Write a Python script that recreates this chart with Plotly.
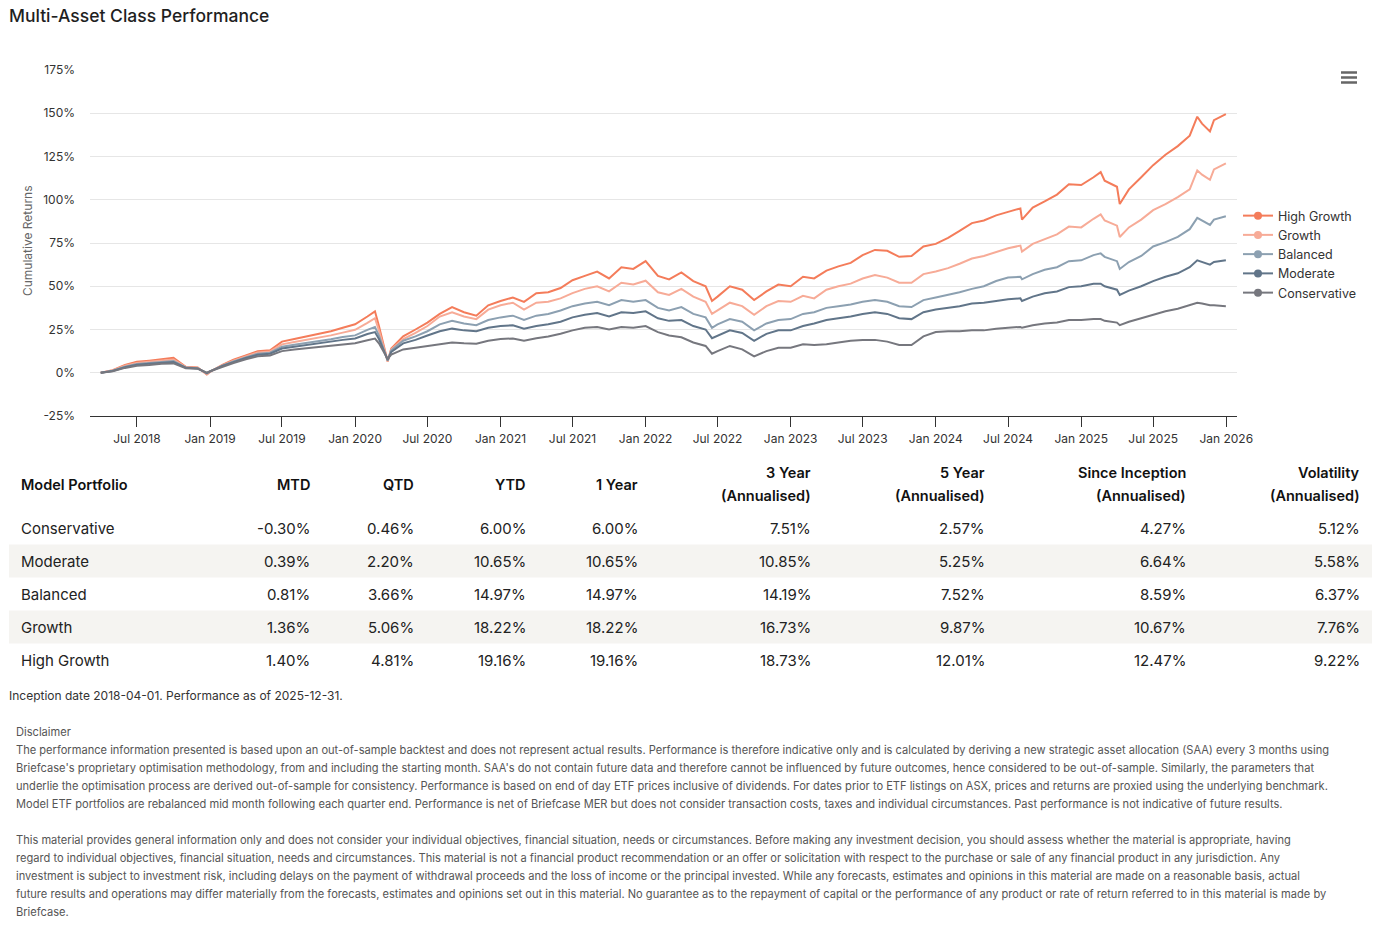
import plotly.graph_objects as go

# ---------------- data ----------------
dates = [
    "2018-04-01", "2018-05-01", "2018-06-01", "2018-07-01", "2018-08-01", "2018-09-01",
    "2018-10-01", "2018-11-01", "2018-12-01", "2018-12-24", "2019-01-01", "2019-02-01",
    "2019-03-01", "2019-04-01", "2019-05-01", "2019-06-01", "2019-07-01", "2019-08-01",
    "2019-09-01", "2019-10-01", "2019-11-01", "2019-12-01", "2020-01-01", "2020-02-01",
    "2020-02-20", "2020-03-01", "2020-03-23", "2020-04-01", "2020-05-01", "2020-06-01",
    "2020-07-01", "2020-08-01", "2020-09-01", "2020-10-01", "2020-11-01", "2020-12-01",
    "2021-01-01", "2021-02-01", "2021-03-01", "2021-04-01", "2021-05-01", "2021-06-01",
    "2021-07-01", "2021-08-01", "2021-09-01", "2021-10-01", "2021-11-01", "2021-12-01",
    "2022-01-01", "2022-02-01", "2022-03-01", "2022-04-01", "2022-05-01", "2022-06-01",
    "2022-06-17", "2022-07-01", "2022-08-01", "2022-09-01", "2022-10-01", "2022-11-01",
    "2022-12-01", "2023-01-01", "2023-02-01", "2023-03-01", "2023-04-01", "2023-05-01",
    "2023-06-01", "2023-07-01", "2023-08-01", "2023-09-01", "2023-10-01", "2023-11-01",
    "2023-12-01", "2024-01-01", "2024-02-01", "2024-03-01", "2024-04-01", "2024-05-01",
    "2024-06-01", "2024-07-01", "2024-08-01", "2024-08-05", "2024-09-01", "2024-10-01",
    "2024-11-01", "2024-12-01", "2025-01-01", "2025-02-01", "2025-02-19", "2025-03-01",
    "2025-04-01", "2025-04-08", "2025-05-01", "2025-06-01", "2025-07-01", "2025-08-01",
    "2025-09-01", "2025-10-01", "2025-10-20", "2025-11-01", "2025-11-21", "2025-12-01",
    "2025-12-31",
]

high_growth = [
    0.0, 1.5, 4.5, 6.3, 7.0, 8.0, 8.6, 3.5, 3.0, -1.0, 0.5, 4.5,
    7.5, 10.0, 12.5, 13.0, 18.0, 19.5, 21.0, 22.5, 24.0, 26.0, 28.0, 32.5,
    35.5, 27.0, 6.5, 14.0, 21.0, 25.0, 29.0, 34.0, 38.0, 35.0, 33.0, 39.0,
    41.5, 43.5, 41.0, 46.0, 46.5, 49.0, 53.5, 56.0, 58.5, 54.5, 61.0, 60.0,
    64.5, 56.0, 54.0, 58.0, 53.0, 50.0, 41.5, 44.0, 50.0, 48.0, 42.0, 47.0,
    51.0, 50.0, 55.5, 54.5, 59.0, 61.5, 63.5, 68.0, 71.0, 70.5, 67.0, 67.5,
    73.0, 74.5, 78.0, 82.0, 86.5, 88.0, 91.0, 93.0, 95.0, 88.5, 95.5, 99.0,
    103.0, 109.0, 108.5, 113.0, 116.0, 111.0, 107.5, 97.5, 106.0, 113.0, 120.0, 126.0,
    131.0, 137.0, 148.0, 144.0, 139.5, 146.0, 149.5,
]

growth = [
    0.0, 1.3, 4.0, 5.6, 6.3, 7.2, 7.7, 3.3, 2.8, -0.7, 0.6, 4.3,
    7.0, 9.4, 11.7, 12.3, 16.4, 17.8, 19.0, 20.3, 21.6, 23.2, 24.8, 28.8,
    31.5, 24.5, 6.5, 13.5, 19.5, 23.0, 27.0, 32.5, 35.0, 32.5, 31.0, 36.5,
    39.0, 40.5, 36.5, 40.5, 41.0, 43.0, 46.0, 48.5, 50.0, 47.0, 52.0, 51.0,
    53.2, 46.5, 45.0, 48.5, 44.0, 41.0, 34.0, 36.0, 40.5, 38.5, 33.5, 38.5,
    41.5, 41.0, 44.5, 43.0, 48.0, 50.0, 51.5, 54.5, 56.5, 55.0, 52.0, 52.0,
    57.0, 58.5, 60.5, 63.0, 66.0, 67.5, 70.0, 72.0, 73.5, 70.0, 74.5, 77.0,
    80.0, 84.5, 84.0, 89.0, 91.5, 88.0, 85.0, 78.5, 84.0, 88.5, 94.0, 97.5,
    101.5, 106.0, 117.0, 114.5, 111.5, 117.5, 121.0,
]

balanced = [
    0.0, 1.2, 3.5, 5.0, 5.6, 6.4, 6.8, 3.0, 2.6, -0.4, 0.7, 4.1,
    6.6, 8.9, 11.0, 11.6, 15.0, 16.2, 17.2, 18.3, 19.4, 20.6, 21.6, 24.8,
    26.5, 21.5, 7.0, 13.0, 18.5, 21.0, 24.0, 28.0, 30.0, 28.5, 27.5, 30.5,
    32.0, 33.0, 30.5, 33.0, 34.0, 36.0, 38.5, 40.0, 41.0, 39.0, 42.0, 41.0,
    42.0, 37.5, 36.0, 38.0, 34.0, 32.0, 26.0, 28.0, 31.0, 29.5, 24.5, 28.5,
    30.5, 31.0, 34.0, 35.0, 37.5, 38.5, 39.5, 41.0, 42.0, 41.0, 38.5, 38.0,
    42.0, 43.5, 45.0, 46.5, 48.5, 50.0, 53.0, 55.0, 55.5, 54.0, 57.0, 59.5,
    61.0, 64.5, 65.0, 68.0, 69.0, 67.0, 64.5, 60.0, 64.0, 67.5, 73.0, 75.5,
    78.5, 83.0, 89.5, 88.0, 85.5, 88.5, 90.5,
]

moderate = [
    0.0, 1.0, 3.2, 4.6, 5.2, 5.9, 6.2, 2.9, 2.5, -0.2, 0.8, 3.9,
    6.2, 8.5, 10.4, 11.0, 14.0, 15.1, 16.0, 17.0, 18.0, 19.0, 19.8, 22.4,
    23.5, 19.5, 7.5, 12.0, 17.0, 19.0, 21.5, 24.0, 25.5, 24.5, 24.0, 26.0,
    27.0, 27.5, 25.5, 27.0, 28.0, 29.5, 32.0, 33.5, 34.5, 32.5, 35.0, 34.5,
    35.5, 31.5, 30.0, 30.5, 27.0, 25.0, 20.0, 21.5, 24.5, 23.0, 18.5, 22.5,
    24.5, 24.5, 27.0, 28.5, 30.5, 31.5, 32.5, 34.0, 35.0, 34.0, 31.5, 31.0,
    35.0, 36.5, 37.5, 38.5, 40.0, 40.5, 41.5, 42.5, 43.0, 41.5, 44.0, 46.0,
    47.0, 49.5, 50.0, 51.5, 51.5, 50.0, 48.0, 45.0, 47.5, 50.0, 53.0, 55.5,
    57.5, 61.0, 65.0, 64.0, 62.5, 64.0, 65.0,
]

conservative = [
    0.0, 0.8, 2.8, 4.0, 4.5, 5.2, 5.4, 2.6, 2.3, 0.0, 0.9, 3.6,
    5.6, 7.8, 9.5, 10.0, 12.5, 13.4, 14.2, 15.0, 15.8, 16.5, 17.0, 18.8,
    19.8, 17.0, 8.0, 10.5, 13.5, 14.5, 15.5, 16.8, 17.5, 17.0, 16.8, 18.5,
    19.5, 19.8, 18.5, 20.0, 21.0, 22.5, 24.5, 26.0, 26.5, 25.0, 26.5, 26.0,
    27.0, 23.5, 21.5, 20.5, 17.5, 15.5, 11.0, 12.5, 15.5, 13.5, 9.5, 12.5,
    14.5, 14.5, 16.5, 16.0, 16.5, 17.5, 18.5, 19.0, 19.0, 18.0, 16.0, 16.0,
    21.0, 23.5, 24.0, 24.0, 24.5, 24.5, 25.5, 26.0, 26.5, 26.0, 27.5, 28.5,
    29.0, 30.5, 30.5, 31.0, 31.0, 30.0, 29.0, 27.5, 29.5, 31.5, 33.5, 35.5,
    37.0, 39.0, 40.5, 40.0, 39.0, 39.0, 38.5,
]

series_names = ["High Growth", "Growth", "Balanced", "Moderate", "Conservative"]
series_values = [high_growth, growth, balanced, moderate, conservative]
series_colors = ["#F47C5A", "#F7AB97", "#8CA0B1", "#617589", "#76777E"]

x_tick_dates = ["2018-07-01", "2019-01-01", "2019-07-01", "2020-01-01", "2020-07-01",
                "2021-01-01", "2021-07-01", "2022-01-01", "2022-07-01", "2023-01-01",
                "2023-07-01", "2024-01-01", "2024-07-01", "2025-01-01", "2025-07-01",
                "2026-01-01"]
x_tick_labels = ["Jul 2018", "Jan 2019", "Jul 2019", "Jan 2020", "Jul 2020", "Jan 2021",
                 "Jul 2021", "Jan 2022", "Jul 2022", "Jan 2023", "Jul 2023", "Jan 2024",
                 "Jul 2024", "Jan 2025", "Jul 2025", "Jan 2026"]
y_tick_values = [-25, 0, 25, 50, 75, 100, 125, 150, 175]

# table
table_portfolios = ["Conservative", "Moderate", "Balanced", "Growth", "High Growth"]
col_mtd = ["-0.30%", "0.39%", "0.81%", "1.36%", "1.40%"]
col_qtd = ["0.46%", "2.20%", "3.66%", "5.06%", "4.81%"]
col_ytd = ["6.00%", "10.65%", "14.97%", "18.22%", "19.16%"]
col_1y = ["6.00%", "10.65%", "14.97%", "18.22%", "19.16%"]
col_3y = ["7.51%", "10.85%", "14.19%", "16.73%", "18.73%"]
col_5y = ["2.57%", "5.25%", "7.52%", "9.87%", "12.01%"]
col_si = ["4.27%", "6.64%", "8.59%", "10.67%", "12.47%"]
col_vol = ["5.12%", "5.58%", "6.37%", "7.76%", "9.22%"]
table_columns = [col_mtd, col_qtd, col_ytd, col_1y, col_3y, col_5y, col_si, col_vol]
header_line1 = ["MTD", "QTD", "YTD", "1 Year", "3 Year", "5 Year", "Since Inception", "Volatility"]
header_line2 = ["", "", "", "", "(Annualised)", "(Annualised)", "(Annualised)", "(Annualised)"]

footnote = "Inception date 2018-04-01. Performance as of 2025-12-31."
disclaimer_title = "Disclaimer"
disclaimer_para1 = [
    "The performance information presented is based upon an out-of-sample backtest and does not represent actual results. Performance is therefore indicative only and is calculated by deriving a new strategic asset allocation (SAA) every 3 months using",
    "Briefcase's proprietary optimisation methodology, from and including the starting month. SAA's do not contain future data and therefore cannot be influenced by future outcomes, hence considered to be out-of-sample. Similarly, the parameters that",
    "underlie the optimisation process are derived out-of-sample for consistency. Performance is based on end of day ETF prices inclusive of dividends. For dates prior to ETF listings on ASX, prices and returns are proxied using the underlying benchmark.",
    "Model ETF portfolios are rebalanced mid month following each quarter end. Performance is net of Briefcase MER but does not consider transaction costs, taxes and individual circumstances. Past performance is not indicative of future results.",
]
disclaimer_para2 = [
    "This material provides general information only and does not consider your individual objectives, financial situation, needs or circumstances. Before making any investment decision, you should assess whether the material is appropriate, having",
    "regard to individual objectives, financial situation, needs and circumstances. This material is not a financial product recommendation or an offer or solicitation with respect to the purchase or sale of any financial product in any jurisdiction. Any",
    "investment is subject to investment risk, including delays on the payment of withdrawal proceeds and the loss of income or the principal invested. While any forecasts, estimates and opinions in this material are made on a reasonable basis, actual",
    "future results and operations may differ materially from the forecasts, estimates and opinions set out in this material. No guarantee as to the repayment of capital or the performance of any product or rate of return referred to in this material is made by",
    "Briefcase.",
]

# ---------------- layout geometry (page pixels) ----------------
FONT = "Inter, 'Noto Sans', sans-serif"
FIG_W, FIG_H = 1377, 943
PL, PR, PT, PB = 90, 1237, 70, 416   # plot area on the page


def px(X):
    return (X - PL) / (PR - PL)


def py(Y):
    return (PB - Y) / (PB - PT)


fig = go.Figure()

for name, vals, col in zip(series_names, series_values, series_colors):
    fig.add_trace(go.Scatter(x=dates, y=vals, mode="lines", name=name,
                             line=dict(color=col, width=2), showlegend=False,
                             legendgroup=name))
for name, col in zip(series_names, series_colors):
    fig.add_trace(go.Scatter(x=[None], y=[None], mode="lines+markers", name=name,
                             line=dict(color=col, width=2),
                             marker=dict(color=col, size=8, symbol="circle"),
                             legendgroup=name, showlegend=True))

annotations = []
shapes = []

# title
annotations.append(dict(text="Multi-Asset Class Performance", x=px(9), y=py(15),
                        xanchor="left", yanchor="middle",
                        font=dict(family=FONT, size=17.5, color="#1f1f1f", weight=500)))
# y axis title
annotations.append(dict(text="Cumulative Returns", x=px(28), y=py(241), textangle=-90,
                        xanchor="center", yanchor="middle",
                        font=dict(family=FONT, size=12, color="#666666")))

# menu icon
for yy in (72.5, 77.5, 82.5):
    shapes.append(dict(type="line", xref="paper", yref="paper",
                       x0=px(1341), x1=px(1357), y0=py(yy), y1=py(yy),
                       line=dict(color="#666666", width=2.5)))

# table stripes
for i, nm in enumerate(table_portfolios):
    if i % 2 == 1:
        yc = 528 + 33 * i
        shapes.append(dict(type="rect", xref="paper", yref="paper", layer="below",
                           x0=px(9), x1=px(1372), y0=py(yc + 16.5), y1=py(yc - 16.5),
                           fillcolor="#F5F4F1", line=dict(width=0)))

# table header
HFONT = dict(family=FONT, size=14.5, color="#111111", weight=600)
col_right = [310, 414, 526, 638, 811, 985, 1186, 1360]
annotations.append(dict(text="Model Portfolio", x=px(21), y=py(484),
                        xanchor="left", yanchor="middle", font=HFONT))
for xr, h1, h2 in zip(col_right, header_line1, header_line2):
    if h2:
        annotations.append(dict(text=h1, x=px(xr), y=py(472),
                                xanchor="right", yanchor="middle", font=HFONT))
        annotations.append(dict(text=h2, x=px(xr), y=py(495),
                                xanchor="right", yanchor="middle", font=HFONT))
    else:
        annotations.append(dict(text=h1, x=px(xr), y=py(484),
                                xanchor="right", yanchor="middle", font=HFONT))
# table body
for i, nm in enumerate(table_portfolios):
    yc = 528 + 33 * i
    annotations.append(dict(text=nm, x=px(21), y=py(yc), xanchor="left", yanchor="middle",
                            font=dict(family=FONT, size=15, color="#222222")))
    for xr, colvals in zip(col_right, table_columns):
        annotations.append(dict(text=colvals[i], x=px(xr), y=py(yc), xanchor="right",
                                yanchor="middle",
                                font=dict(family=FONT, size=15, color="#222222")))

# footnote
annotations.append(dict(text=footnote, x=px(9), y=py(695), xanchor="left", yanchor="middle",
                        font=dict(family=FONT, size=12, color="#333333")))
# disclaimer
DFONT = dict(family=FONT, size=11.1, color="#555555")
annotations.append(dict(text=disclaimer_title, x=px(16), y=py(732), xanchor="left",
                        yanchor="middle", font=DFONT))
for k, line in enumerate(disclaimer_para1):
    annotations.append(dict(text=line, x=px(16), y=py(750 + 18 * k), xanchor="left",
                            yanchor="middle", font=DFONT))
for k, line in enumerate(disclaimer_para2):
    annotations.append(dict(text=line, x=px(16), y=py(840 + 18 * k), xanchor="left",
                            yanchor="middle", font=DFONT))

for a in annotations:
    a.setdefault("xref", "paper")
    a.setdefault("yref", "paper")
    a["showarrow"] = False
    a["borderpad"] = 0
    a["borderwidth"] = 0

fig.update_layout(
    width=FIG_W, height=FIG_H,
    margin=dict(l=PL, r=FIG_W - PR, t=PT, b=FIG_H - PB, pad=0),
    paper_bgcolor="white", plot_bgcolor="white",
    font=dict(family=FONT, size=12, color="#333333"),
    showlegend=True,
    legend=dict(x=px(1238), y=py(201), xanchor="left", yanchor="top",
                font=dict(family=FONT, size=12.5, color="#333333"),
                bgcolor="rgba(0,0,0,0)", itemwidth=30, tracegroupgap=0),
    annotations=annotations, shapes=shapes,
    hovermode=False,
)
fig.update_xaxes(type="date", range=["2018-03-05", "2026-01-28"],
                 tickvals=x_tick_dates, ticktext=x_tick_labels,
                 ticks="outside", ticklen=10, tickcolor="#333333", tickwidth=1,
                 showline=True, linecolor="#333333", linewidth=1,
                 showgrid=False, zeroline=False, ticklabelstandoff=2,
                 tickfont=dict(family=FONT, size=12, color="#333333"))
fig.update_yaxes(range=[-25, 175], tickvals=y_tick_values,
                 ticktext=[f"{v}%" for v in y_tick_values],
                 showgrid=True, gridcolor="#E6E6E6", gridwidth=1,
                 zeroline=False, showline=False, ticks="",
                 ticklabelstandoff=14,
                 tickfont=dict(family=FONT, size=12, color="#333333"))

fig.write_html("out.html", config={"displayModeBar": False},
               post_script="document.body.style.margin='0';document.body.style.overflow='hidden';")
